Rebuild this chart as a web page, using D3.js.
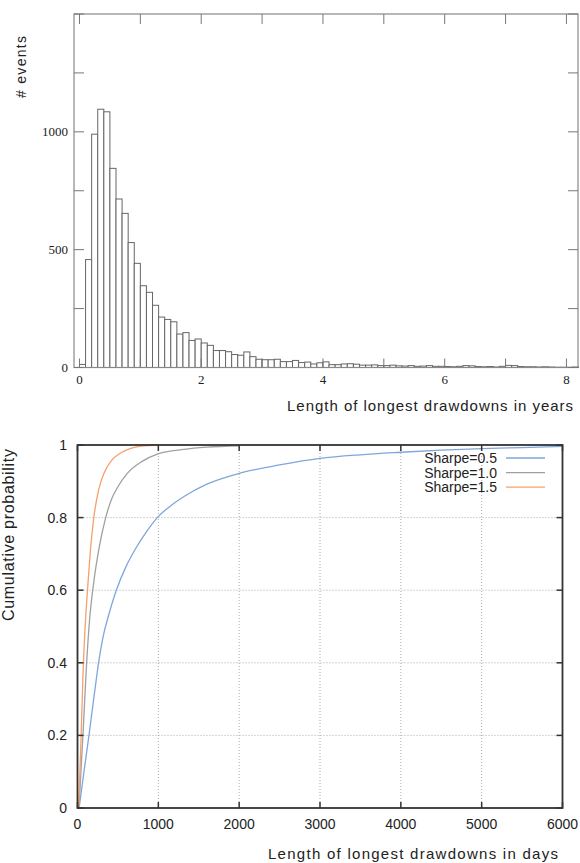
<!DOCTYPE html>
<html>
<head>
	<title>Drawdown length</title>
	<script src="https://d3js.org/d3.v7.min.js"></script>
	<style>
		body { margin: 0; background: #fff; }
		svg { display: block; }
	</style>
</head>
<body>
	<script type="text/javascript">
		// histogram counts, one per 0.1 year bin starting at 0
		var binWidth = 0.1;
		var counts = [13, 458, 990, 1096, 1085, 845, 715, 654, 530, 442,
					  347, 319, 264, 214, 204, 194, 142, 148, 115, 121,
					  104, 94, 72, 72, 67, 55, 52, 66, 46, 35,
					  33, 33, 35, 25, 25, 30, 21, 23, 15, 20,
					  24, 12, 12, 15, 16, 14, 10, 10, 11, 8,
					  8, 10, 7, 6, 8, 5, 6, 8, 5, 5,
					  4, 3, 5, 8, 7, 4, 3, 4, 2, 5,
					  9, 8, 4, 3, 3, 2, 3, 2, 1, 1,
					  1, 2];
		var histXTicks = [0, 2, 4, 6, 8];
		var histYTicks = [0, 500, 1000];

		// cumulative probability curves (days, probability)
		var seriesNames = ["Sharpe=0.5", "Sharpe=1.0", "Sharpe=1.5"];
		var seriesColors = ["#7ea6dc", "#a0a0a0", "#f5a06e"];
		var daysS05 = [20, 80, 142, 200, 230, 254, 290, 330, 369, 480, 600, 720, 850, 987, 1150, 1318, 1600, 2000, 2500, 3000, 3500, 4000, 4500, 5000, 5500, 6000];
		var probS05 = [0, 0.1, 0.2, 0.3, 0.35, 0.39, 0.44, 0.485, 0.518, 0.6, 0.665, 0.715, 0.76, 0.8, 0.832, 0.858, 0.892, 0.922, 0.945, 0.963, 0.973, 0.98, 0.986, 0.99, 0.993, 0.996];
		var daysS10 = [18, 72, 113, 150, 200, 270, 349, 420, 500, 616, 800, 987, 1318, 1600, 2000];
		var probS10 = [0, 0.22, 0.4, 0.52, 0.62, 0.72, 0.8, 0.85, 0.885, 0.922, 0.955, 0.975, 0.988, 0.994, 0.998];
		var daysS15 = [15, 45, 70, 100, 130, 160, 196, 260, 328, 420, 534, 650, 782, 1000];
		var probS15 = [0, 0.2, 0.38, 0.52, 0.62, 0.71, 0.79, 0.875, 0.922, 0.957, 0.978, 0.99, 0.997, 1.0];
		var cdfXTicks = [0, 1000, 2000, 3000, 4000, 5000, 6000];
		var cdfYTicks = [0, 0.2, 0.4, 0.6, 0.8, 1];

		var svg = d3.select("body").append("svg")
					.attr("width", 580)
					.attr("height", 863);

		// ---------- top: histogram ----------
		var hx = d3.scaleLinear().domain([-0.09, 8.19]).range([74, 578]);
		var hy = d3.scaleLinear().domain([0, 1500]).range([367.5, 14]);
		var serif = "'Liberation Serif', 'DejaVu Serif', serif";
		var sans = "'Liberation Sans', Arial, sans-serif";

		svg.append("g").selectAll("rect")
		   .data(counts)
		   .enter()
		   .append("rect")
		   .attr("x", function(d, i) { return hx(i * binWidth); })
		   .attr("y", function(d) { return hy(d); })
		   .attr("width", function(d, i) { return hx((i + 1) * binWidth) - hx(i * binWidth); })
		   .attr("height", function(d) { return hy(0) - hy(d); })
		   .attr("fill", "#fff")
		   .attr("stroke", "#666")
		   .attr("stroke-width", 1);

		// frame
		svg.append("rect")
		   .attr("x", 74).attr("y", 14)
		   .attr("width", 504).attr("height", 353.5)
		   .attr("fill", "none")
		   .attr("stroke", "#888")
		   .attr("stroke-width", 1.2);

		// inward ticks, every year on bottom and top, every 250 on the sides
		var yearTicks = d3.range(0, 9);
		svg.append("g").selectAll("line.bt")
		   .data(yearTicks).enter().append("line")
		   .attr("x1", function(d) { return hx(d); })
		   .attr("x2", function(d) { return hx(d); })
		   .attr("y1", hy(0)).attr("y2", hy(0) - 9)
		   .attr("stroke", "#777");
		svg.append("g").selectAll("line.tt")
		   .data(yearTicks).enter().append("line")
		   .attr("x1", function(d) { return hx(d); })
		   .attr("x2", function(d) { return hx(d); })
		   .attr("y1", 14).attr("y2", 24)
		   .attr("stroke", "#777");
		var countTicks = d3.range(0, 1501, 250);
		svg.append("g").selectAll("line.lt")
		   .data(countTicks).enter().append("line")
		   .attr("x1", 74).attr("x2", 84)
		   .attr("y1", function(d) { return hy(d); })
		   .attr("y2", function(d) { return hy(d); })
		   .attr("stroke", "#777");
		svg.append("g").selectAll("line.rt")
		   .data(countTicks).enter().append("line")
		   .attr("x1", 568).attr("x2", 578)
		   .attr("y1", function(d) { return hy(d); })
		   .attr("y2", function(d) { return hy(d); })
		   .attr("stroke", "#777");

		svg.append("g").selectAll("text")
		   .data(histXTicks).enter().append("text")
		   .attr("x", function(d) { return hx(d); })
		   .attr("y", 384)
		   .attr("text-anchor", "middle")
		   .style("font-family", serif)
		   .style("font-size", "13px")
		   .attr("fill", "#222")
		   .text(function(d) { return d; });
		svg.append("g").selectAll("text")
		   .data(histYTicks).enter().append("text")
		   .attr("x", 68)
		   .attr("y", function(d) { return hy(d) + 4.5; })
		   .attr("text-anchor", "end")
		   .style("font-family", serif)
		   .style("font-size", "13px")
		   .attr("fill", "#222")
		   .text(function(d) { return d; });

		svg.append("text")
		   .attr("transform", "translate(26,98) rotate(-90)")
		   .attr("textLength", 62)
		   .attr("lengthAdjust", "spacing")
		   .style("font-family", sans)
		   .style("font-size", "14px")
		   .attr("fill", "#222")
		   .text("# events");
		svg.append("text")
		   .attr("x", 287).attr("y", 411)
		   .attr("textLength", 286)
		   .attr("lengthAdjust", "spacing")
		   .style("font-family", sans)
		   .style("font-size", "15px")
		   .attr("fill", "#222")
		   .text("Length of longest drawdowns in years");

		// ---------- bottom: cumulative probability ----------
		var cx = d3.scaleLinear().domain([0, 6000]).range([77.5, 562.5]);
		var cy = d3.scaleLinear().domain([0, 1]).range([808, 445]);

		// dotted grid
		svg.append("g").selectAll("line.gx")
		   .data(cdfXTicks.slice(1, -1)).enter().append("line")
		   .attr("x1", function(d) { return cx(d); })
		   .attr("x2", function(d) { return cx(d); })
		   .attr("y1", cy(0)).attr("y2", cy(1))
		   .attr("stroke", "#aaa")
		   .attr("stroke-dasharray", "1,2");
		svg.append("g").selectAll("line.gy")
		   .data(cdfYTicks.slice(1, -1)).enter().append("line")
		   .attr("x1", cx(0)).attr("x2", cx(6000))
		   .attr("y1", function(d) { return cy(d); })
		   .attr("y2", function(d) { return cy(d); })
		   .attr("stroke", "#aaa")
		   .attr("stroke-dasharray", "1,2");

		var curves = [
			{ days: daysS05, prob: probS05 },
			{ days: daysS10, prob: probS10 },
			{ days: daysS15, prob: probS15 }
		];
		var line = d3.line()
					 .x(function(d) { return cx(d[0]); })
					 .y(function(d) { return cy(d[1]); })
					 .curve(d3.curveMonotoneX);
		curves.forEach(function(c, i) {
			svg.append("path")
			   .datum(d3.zip(c.days, c.prob))
			   .attr("d", line)
			   .attr("fill", "none")
			   .attr("stroke", seriesColors[i])
			   .attr("stroke-width", 1.3);
		});

		// frame and inward ticks
		svg.append("rect")
		   .attr("x", cx(0)).attr("y", cy(1))
		   .attr("width", cx(6000) - cx(0)).attr("height", cy(0) - cy(1))
		   .attr("fill", "none")
		   .attr("stroke", "#333")
		   .attr("stroke-width", 1.8);
		svg.append("g").selectAll("line.xb")
		   .data(cdfXTicks).enter().append("line")
		   .attr("x1", function(d) { return cx(d); })
		   .attr("x2", function(d) { return cx(d); })
		   .attr("y1", cy(0)).attr("y2", cy(0) - 6)
		   .attr("stroke", "#333").attr("stroke-width", 1.5);
		svg.append("g").selectAll("line.xt")
		   .data(cdfXTicks).enter().append("line")
		   .attr("x1", function(d) { return cx(d); })
		   .attr("x2", function(d) { return cx(d); })
		   .attr("y1", cy(1)).attr("y2", cy(1) + 6)
		   .attr("stroke", "#333").attr("stroke-width", 1.5);
		svg.append("g").selectAll("line.yl")
		   .data(cdfYTicks).enter().append("line")
		   .attr("x1", cx(0)).attr("x2", cx(0) + 6)
		   .attr("y1", function(d) { return cy(d); })
		   .attr("y2", function(d) { return cy(d); })
		   .attr("stroke", "#333").attr("stroke-width", 1.5);
		svg.append("g").selectAll("line.yr")
		   .data(cdfYTicks).enter().append("line")
		   .attr("x1", cx(6000) - 6).attr("x2", cx(6000))
		   .attr("y1", function(d) { return cy(d); })
		   .attr("y2", function(d) { return cy(d); })
		   .attr("stroke", "#333").attr("stroke-width", 1.5);

		svg.append("g").selectAll("text")
		   .data(cdfXTicks).enter().append("text")
		   .attr("x", function(d) { return cx(d); })
		   .attr("y", 829)
		   .attr("text-anchor", "middle")
		   .style("font-family", sans)
		   .style("font-size", "14px")
		   .attr("fill", "#222")
		   .text(function(d) { return d; });
		svg.append("g").selectAll("text")
		   .data(cdfYTicks).enter().append("text")
		   .attr("x", 67)
		   .attr("y", function(d) { return cy(d) + 5; })
		   .attr("text-anchor", "end")
		   .style("font-family", sans)
		   .style("font-size", "14px")
		   .attr("fill", "#222")
		   .text(function(d) { return d; });

		svg.append("text")
		   .attr("transform", "translate(14,621) rotate(-90)")
		   .attr("textLength", 172)
		   .attr("lengthAdjust", "spacing")
		   .style("font-family", sans)
		   .style("font-size", "16px")
		   .attr("fill", "#222")
		   .text("Cumulative probability");
		svg.append("text")
		   .attr("x", 268).attr("y", 859)
		   .attr("textLength", 290)
		   .attr("lengthAdjust", "spacing")
		   .style("font-family", sans)
		   .style("font-size", "15px")
		   .attr("fill", "#222")
		   .text("Length of longest drawdowns in days");

		// legend
		var legend = svg.append("g").selectAll("g")
						.data(seriesNames).enter().append("g")
						.attr("transform", function(d, i) { return "translate(0," + (458 + i * 14.6) + ")"; });
		legend.append("text")
			  .attr("x", 497).attr("y", 5)
			  .attr("text-anchor", "end")
			  .style("font-family", sans)
			  .style("font-size", "14px")
			  .attr("fill", "#222")
			  .text(function(d) { return d; });
		legend.append("line")
			  .attr("x1", 506).attr("x2", 545)
			  .attr("y1", 0).attr("y2", 0)
			  .attr("stroke", function(d, i) { return seriesColors[i]; })
			  .attr("stroke-width", 1.3);
	</script>
</body>
</html>
